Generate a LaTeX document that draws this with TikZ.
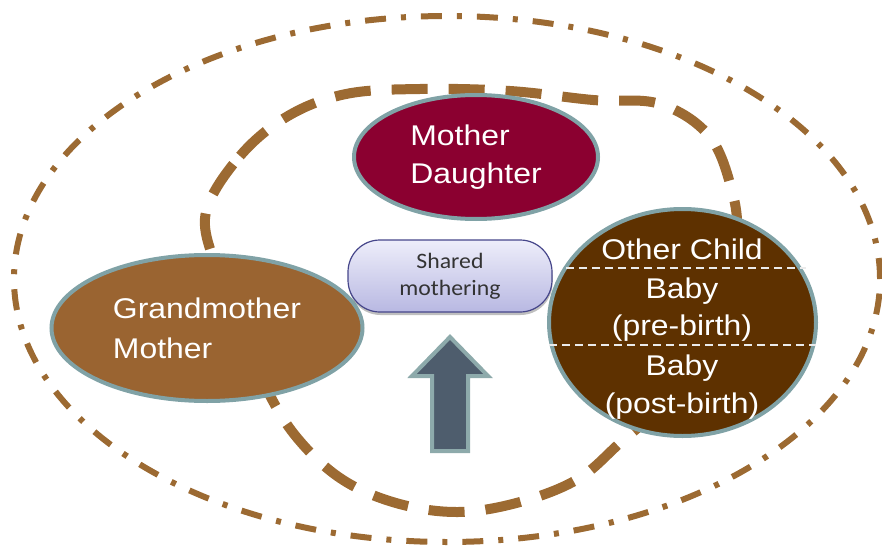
\documentclass[tikz,border=0pt]{standalone}
\usepackage{fontspec}
\usetikzlibrary{shapes.geometric,shadows}
\newfontfamily\arialx[FakeStretch=1.12]{Liberation Sans}
\newfontfamily\calx[FakeStretch=1.08]{Carlito}
\definecolor{dashbrown}{HTML}{9C6A32}
\definecolor{rim}{HTML}{80A2A6}
\definecolor{mdfill}{HTML}{8B0030}
\definecolor{gmfill}{HTML}{9A6431}
\definecolor{childfill}{HTML}{5E3100}
\definecolor{boxtop}{HTML}{EEEEFA}
\definecolor{boxbot}{HTML}{B8B8E2}
\definecolor{boxline}{HTML}{46468A}
\definecolor{textgray}{HTML}{333333}
\definecolor{arrowfill}{HTML}{4E5D6D}
\definecolor{arrowrim}{HTML}{8DAAAB}
\begin{document}
\begin{tikzpicture}[x=1pt,y=-1pt,
  outerline/.style={draw=dashbrown, line width=6pt, dash pattern=on 21pt off 15pt on 5pt off 15pt},
  innerline/.style={draw=dashbrown, line width=10pt, dash pattern=on 36pt off 21pt},
  blob/.style={ellipse, draw=rim, line width=4pt, inner sep=0pt, text=white, align=left},
  bigtext/.style={font=\arialx\fontsize{28.5}{38}\selectfont},
  childtext/.style={anchor=base, text=white, font=\arialx\fontsize{28.5}{38}\selectfont, inner sep=0pt},
  sepline/.style={draw=white!92!black, line width=1.5pt, dash pattern=on 8pt off 5pt},
  sharebox/.style={rounded corners=32pt, draw=boxline, line width=1.2pt, top color=boxtop, bottom color=boxbot,
    minimum width=204pt, minimum height=72pt, inner sep=0pt, text=textgray, align=center,
    font=\calx\fontsize{22}{27}\selectfont,
    drop shadow={shadow xshift=0.5pt, shadow yshift=-3pt, fill=black, opacity=0.25}},
  uparrow/.style={fill=arrowfill, draw=arrowrim, line width=4pt, line join=miter}
]
\useasboundingbox (0,0) rectangle (882,548);
% outer dash-dot ellipse
\draw[outerline] (447,279) ellipse [x radius=433pt, y radius=263pt];
% inner dashed loop
\draw[innerline] plot[smooth cycle, tension=0.6] coordinates {
  (206,212) (240,156) (288,116) (346,94) (420,89) (510,91) (593,100) (660,104)
  (710,137) (733,195) (737,240) (729,290) (708,345) (668,400) (621,442) (578,479)
  (520,502) (458,512) (396,503) (340,478) (294,434) (262,380) (236,320) (215,265)};
% ellipses
\node[blob, bigtext, fill=mdfill, minimum width=244pt, minimum height=124pt] (md) at (476,157) {Mother\\Daughter};
\node[blob, fill=gmfill, minimum width=311pt, minimum height=146pt,
      font=\arialx\fontsize{28.5}{40}\selectfont] (gm) at (207,328) {Grandmother\\Mother};
\node[blob, fill=childfill, minimum width=267pt, minimum height=227pt] (child) at (682.5,322.5) {};
\draw[sepline] (566,268) -- (806,268);
\draw[sepline] (549,345) -- (816,345);
\node[childtext] (c1) at (682,259) {Other Child};
\node[childtext] (c2) at (682,298) {Baby};
\node[childtext] (c3) at (682,335) {(pre-birth)};
\node[childtext] (c4) at (682,375) {Baby};
\node[childtext] (c5) at (682,413) {(post-birth)};
% shared box
\node[sharebox] (share) at (450,276) {Shared\\mothering};
% block arrow
\draw[uparrow] (432,451) -- (432,376) -- (412,376) -- (450,337) -- (488,376) -- (468,376) -- (468,451) -- cycle;
\end{tikzpicture}
\end{document}
